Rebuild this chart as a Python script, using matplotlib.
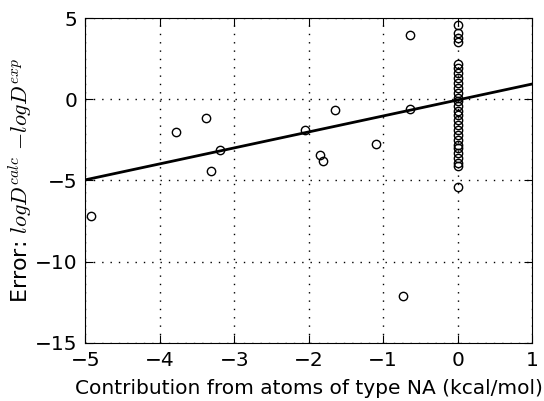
import matplotlib
matplotlib.use("Agg")
import matplotlib.pyplot as plt
import numpy as np

# contribution (kcal/mol) vs error
contrib = [-4.93, -3.78, -3.38, -3.31, -3.19, -2.05, -1.85, -1.81, -1.65,
           -1.09, -0.64, -0.64, -0.73,
           0, 0, 0, 0, 0, 0, 0, 0, 0, 0, 0, 0, 0, 0, 0, 0, 0, 0,
           0, 0, 0, 0, 0, 0, 0, 0, 0, 0]
error = [-7.2, -2.0, -1.14, -4.43, -3.13, -1.87, -3.43, -3.78, -0.65,
         -2.74, 3.96, -0.6, -12.1,
         4.6, 4.1, 3.8, 3.5, 2.2, 1.9, 1.6, 1.3, 1.0, 0.7, 0.4, 0.1,
         -0.1, -0.4, -0.7, -1.0, -1.3, -1.6, -1.9, -2.2, -2.5, -2.8,
         -3.0, -3.3, -3.6, -3.9, -4.1, -5.4]

# linear fit drawn across the plot
fit_slope = 0.983
fit_intercept = -0.046

xticks = [-5, -4, -3, -2, -1, 0, 1]
yticks = [-15, -10, -5, 0, 5]

plt.rcParams['mathtext.fontset'] = 'cm'
plt.rcParams['font.family'] = 'DejaVu Sans'

fig = plt.figure(figsize=(5.44, 4.01), dpi=100)
ax = fig.add_axes([0.157, 0.145, 0.821, 0.810])

ax.plot(contrib, error, 'o', mfc='none', mec='black', ms=6, mew=1.0, zorder=3)

xs = np.array([xticks[0], xticks[-1]])
ax.plot(xs, fit_slope * xs + fit_intercept, color='black', lw=2, zorder=4)

ax.set_xlim(-5, 1)
ax.set_ylim(-15, 5)
ax.set_xticks(xticks)
ax.set_yticks(yticks)
ax.grid(True, color='black', linestyle=(0, (1, 5)), linewidth=1.0)
ax.tick_params(direction='in', top=True, right=True, length=6, labelsize=14.5, pad=6)

ax.set_xlabel('Contribution from atoms of type NA (kcal/mol)', fontsize=14.5, labelpad=6)
ax.set_ylabel('Error: $logD^{calc}$ $-logD^{exp}$', fontsize=16, labelpad=0)

fig.savefig('out.png', dpi=100)
